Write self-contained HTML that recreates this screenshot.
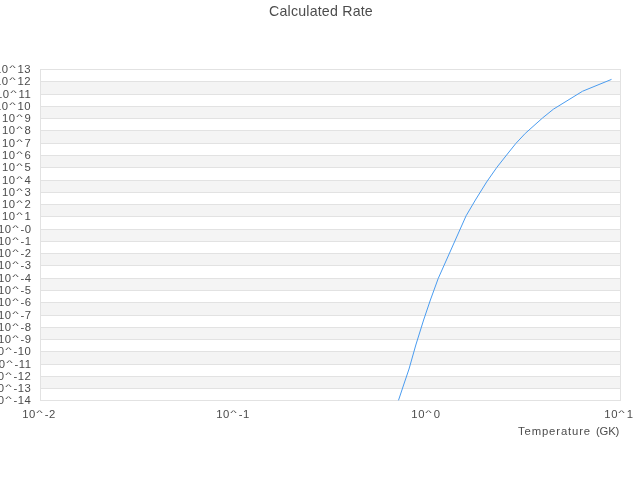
<!DOCTYPE html>
<html><head><meta charset="utf-8"><title>Calculated Rate</title>
<style>
html,body{margin:0;padding:0;background:#fff;}
body{width:640px;height:480px;position:relative;overflow:hidden;font-family:"Liberation Sans",sans-serif;color:#4c4c4c;}
.yl,.xl,.xt,.tt{will-change:transform;}
svg{position:absolute;left:0;top:0;}
.yl{position:absolute;right:608.9px;height:16px;line-height:16px;font-size:11.3px;letter-spacing:0.5px;white-space:nowrap;text-align:right;}
.xl{position:absolute;top:406px;width:80px;height:16px;line-height:16px;font-size:11.3px;letter-spacing:0.5px;text-align:center;white-space:nowrap;}
.c{display:inline-block;position:relative;top:0.2px;transform:scale(1.22,0.62);transform-origin:50% 4.2px;margin:0 1.4px 0 1.7px;}
.u{letter-spacing:-0.15px;margin-left:0.9px;}
.xl .c{margin:0 1.8px 0 1.3px;}
.xt{position:absolute;right:21.1px;top:423px;height:16px;line-height:16px;font-size:11.3px;letter-spacing:0.87px;white-space:nowrap;}
.tt{position:absolute;left:221px;width:200px;top:1px;height:20px;line-height:20px;font-size:14.2px;letter-spacing:0.2px;text-align:center;white-space:nowrap;}
</style></head><body>
<svg width="640" height="480" viewBox="0 0 640 480">
<rect x="41" y="82" width="579" height="12" fill="#f4f4f4"/>
<rect x="41" y="107" width="579" height="11" fill="#f4f4f4"/>
<rect x="41" y="131" width="579" height="12" fill="#f4f4f4"/>
<rect x="41" y="156" width="579" height="11" fill="#f4f4f4"/>
<rect x="41" y="181" width="579" height="11" fill="#f4f4f4"/>
<rect x="41" y="205" width="579" height="11" fill="#f4f4f4"/>
<rect x="41" y="230" width="579" height="11" fill="#f4f4f4"/>
<rect x="41" y="254" width="579" height="11" fill="#f4f4f4"/>
<rect x="41" y="279" width="579" height="11" fill="#f4f4f4"/>
<rect x="41" y="303" width="579" height="12" fill="#f4f4f4"/>
<rect x="41" y="328" width="579" height="11" fill="#f4f4f4"/>
<rect x="41" y="352" width="579" height="12" fill="#f4f4f4"/>
<rect x="41" y="377" width="579" height="11" fill="#f4f4f4"/>
<rect x="40" y="69" width="581" height="1" fill="#e2e2e2"/>
<rect x="40" y="81" width="581" height="1" fill="#e2e2e2"/>
<rect x="40" y="94" width="581" height="1" fill="#e2e2e2"/>
<rect x="40" y="106" width="581" height="1" fill="#e2e2e2"/>
<rect x="40" y="118" width="581" height="1" fill="#e2e2e2"/>
<rect x="40" y="130" width="581" height="1" fill="#e2e2e2"/>
<rect x="40" y="143" width="581" height="1" fill="#e2e2e2"/>
<rect x="40" y="155" width="581" height="1" fill="#e2e2e2"/>
<rect x="40" y="167" width="581" height="1" fill="#e2e2e2"/>
<rect x="40" y="180" width="581" height="1" fill="#e2e2e2"/>
<rect x="40" y="192" width="581" height="1" fill="#e2e2e2"/>
<rect x="40" y="204" width="581" height="1" fill="#e2e2e2"/>
<rect x="40" y="216" width="581" height="1" fill="#e2e2e2"/>
<rect x="40" y="229" width="581" height="1" fill="#e2e2e2"/>
<rect x="40" y="241" width="581" height="1" fill="#e2e2e2"/>
<rect x="40" y="253" width="581" height="1" fill="#e2e2e2"/>
<rect x="40" y="265" width="581" height="1" fill="#e2e2e2"/>
<rect x="40" y="278" width="581" height="1" fill="#e2e2e2"/>
<rect x="40" y="290" width="581" height="1" fill="#e2e2e2"/>
<rect x="40" y="302" width="581" height="1" fill="#e2e2e2"/>
<rect x="40" y="315" width="581" height="1" fill="#e2e2e2"/>
<rect x="40" y="327" width="581" height="1" fill="#e2e2e2"/>
<rect x="40" y="339" width="581" height="1" fill="#e2e2e2"/>
<rect x="40" y="351" width="581" height="1" fill="#e2e2e2"/>
<rect x="40" y="364" width="581" height="1" fill="#e2e2e2"/>
<rect x="40" y="376" width="581" height="1" fill="#e2e2e2"/>
<rect x="40" y="388" width="581" height="1" fill="#e2e2e2"/>
<rect x="40" y="400" width="581" height="1" fill="#e2e2e2"/>
<rect x="40" y="69" width="1" height="332" fill="#e2e2e2"/>
<rect x="620" y="69" width="1" height="332" fill="#e2e2e2"/>
<polyline fill="none" stroke="#4a9cf0" stroke-width="1" points="398.5,400.3 403.6,385 409.02,369 415.82,345 423.62,320 430.39,300 438.16,278.6 466.1,215.8 475.4,200 486.6,182 496.9,167.3 508.2,153 515.9,143.4 525.25,133.4 542.5,118 553.4,109.2 582.5,91.25 611.5,79.4"/>
</svg>
<div class="yl" style="top:60.70px">10<span class="c">^</span>13</div>
<div class="yl" style="top:72.70px">10<span class="c">^</span>12</div>
<div class="yl" style="top:85.70px">10<span class="c">^</span>11</div>
<div class="yl" style="top:97.70px">10<span class="c">^</span>10</div>
<div class="yl" style="top:109.70px">10<span class="c">^</span>9</div>
<div class="yl" style="top:121.70px">10<span class="c">^</span>8</div>
<div class="yl" style="top:134.70px">10<span class="c">^</span>7</div>
<div class="yl" style="top:146.70px">10<span class="c">^</span>6</div>
<div class="yl" style="top:158.70px">10<span class="c">^</span>5</div>
<div class="yl" style="top:171.70px">10<span class="c">^</span>4</div>
<div class="yl" style="top:183.70px">10<span class="c">^</span>3</div>
<div class="yl" style="top:195.70px">10<span class="c">^</span>2</div>
<div class="yl" style="top:207.70px">10<span class="c">^</span>1</div>
<div class="yl" style="top:220.70px">10<span class="c">^</span>-0</div>
<div class="yl" style="top:232.70px">10<span class="c">^</span>-1</div>
<div class="yl" style="top:244.70px">10<span class="c">^</span>-2</div>
<div class="yl" style="top:256.70px">10<span class="c">^</span>-3</div>
<div class="yl" style="top:269.70px">10<span class="c">^</span>-4</div>
<div class="yl" style="top:281.70px">10<span class="c">^</span>-5</div>
<div class="yl" style="top:293.70px">10<span class="c">^</span>-6</div>
<div class="yl" style="top:306.70px">10<span class="c">^</span>-7</div>
<div class="yl" style="top:318.70px">10<span class="c">^</span>-8</div>
<div class="yl" style="top:330.70px">10<span class="c">^</span>-9</div>
<div class="yl" style="top:342.70px">10<span class="c">^</span>-10</div>
<div class="yl" style="top:355.70px">10<span class="c">^</span>-11</div>
<div class="yl" style="top:367.70px">10<span class="c">^</span>-12</div>
<div class="yl" style="top:379.70px">10<span class="c">^</span>-13</div>
<div class="yl" style="top:391.70px">10<span class="c">^</span>-14</div>
<div class="xl" style="left:-0.80px">10<span class="c">^</span>-2</div>
<div class="xl" style="left:192.53px">10<span class="c">^</span>-1</div>
<div class="xl" style="left:385.87px">10<span class="c">^</span>0</div>
<div class="xl" style="left:579.20px">10<span class="c">^</span>1</div>
<div class="xt">Temperature <span class="u">(GK)</span></div>
<div class="tt">Calculated Rate</div>
</body></html>
